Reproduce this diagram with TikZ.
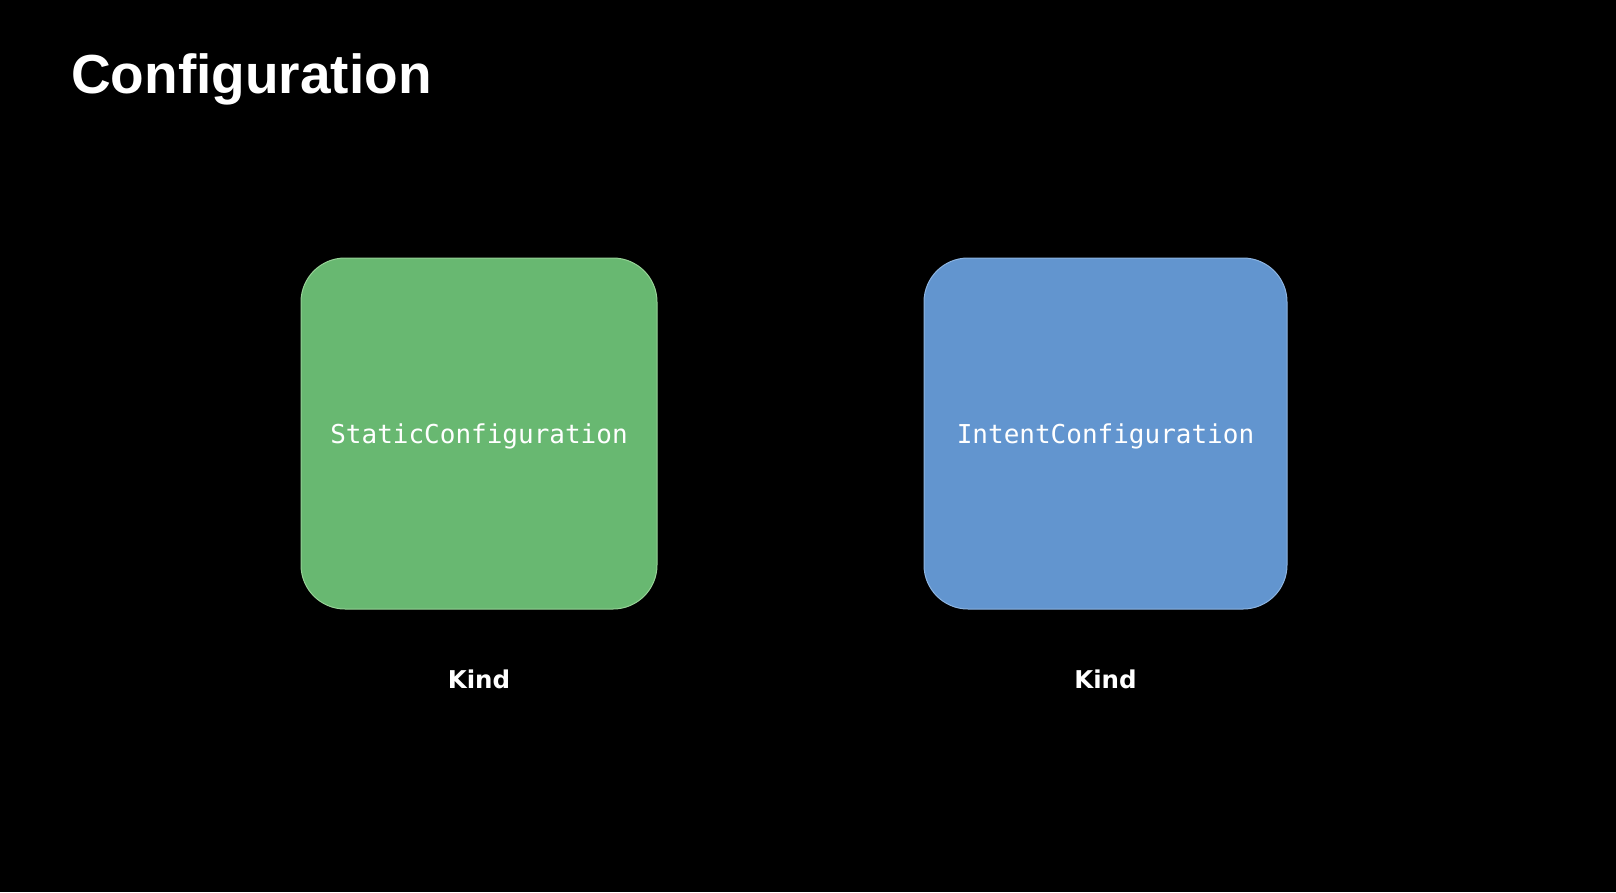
\documentclass[tikz,border=0pt]{standalone}
\usepackage{fontspec}
\setmainfont{Liberation Sans}
\newfontfamily\monofont{DejaVu Sans Mono}
\newfontfamily\kindfont{DejaVu Sans}
\usepackage{xcolor}
\usetikzlibrary{positioning}

\definecolor{staticgreen}{RGB}{104,184,113}
\definecolor{staticedge}{RGB}{150,210,150}
\definecolor{intentblue}{RGB}{98,149,207}
\definecolor{intentedge}{RGB}{140,180,225}

\begin{document}
\begin{tikzpicture}[x=1pt, y=-1pt, node distance=60pt,
	cfgbox/.style={rounded corners=44pt, minimum height=351pt, line width=1pt, text=white, text depth=0pt,
		font=\monofont\fontsize{26pt}{30pt}\selectfont},
	kindlabel/.style={inner sep=0pt, text=white, font=\kindfont\bfseries\fontsize{24.5pt}{30pt}\selectfont}]
		\fill[black] (0,0) rectangle (1616,892);
		\node[anchor=base west, inner sep=0pt, text=white, font=\bfseries\fontsize{55pt}{60pt}\selectfont] (title) at (71,93) {Configuration};
		
		\node[cfgbox, fill=staticgreen, draw=staticedge, minimum width=356pt] (static) at (479,433.5) {StaticConfiguration};
		\node[cfgbox, fill=intentblue, draw=intentedge, minimum width=363pt] (intent) at (1105.5,433.5) {IntentConfiguration};
		
		\node[kindlabel, below=of static] (kindS) {Kind};
		\node[kindlabel, below=of intent] (kindI) {Kind};
	\end{tikzpicture}
\end{document}
